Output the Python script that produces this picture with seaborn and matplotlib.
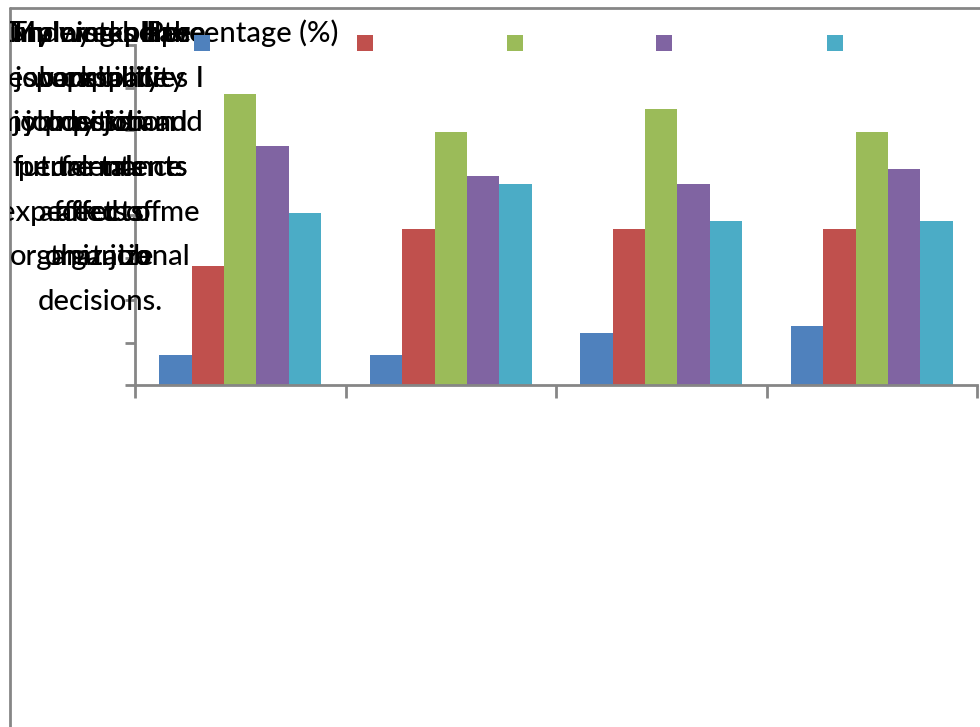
import numpy as np
import pandas as pd
import matplotlib
matplotlib.use("Agg")
import matplotlib.pyplot as plt
import seaborn as sns
from matplotlib.lines import Line2D
from matplotlib.transforms import Bbox, TransformedBbox

# ---------------- data ----------------
# statements (category labels), stored line by line as they are wrapped
stmt1_lines = ["I understand the", "responsibilities I", "my position and", "performance", "expected of me"]
stmt2_lines = ["My workplace", "workspace", "job desks and", "future talents", "affects of", "organizational", "decisions."]
stmt3_lines = ["Training helps", "job capability", "job position", "future talents", "affects", "that job"]
stmt4_lines = ["Employees have", "capability", "my job", "talents", "affects", "organize"]
statement_lines = [stmt1_lines, stmt2_lines, stmt3_lines, stmt4_lines]
categories = [" ".join(s) for s in statement_lines]

responses = ["Strongly disagree", "Disagree", "Neutral", "Agree", "Strongly agree"]
strongly_disagree = [3.5, 3.5, 6.1, 7.0]
disagree = [14.0, 18.4, 18.4, 18.4]
neutral = [34.2, 29.8, 32.5, 29.8]
agree = [28.1, 24.6, 23.7, 25.4]
strongly_agree = [20.2, 23.7, 19.3, 19.3]
series_values = [strongly_disagree, disagree, neutral, agree, strongly_agree]

axis_title = "Percentage (%)"
y_ticks = [0, 5, 10, 15, 20, 25, 30, 35, 40]

colors = ["#4F81BD", "#C0504D", "#9BBB59", "#8064A2", "#4BACC6"]

df = pd.DataFrame({
    "Statement": [c for _ in responses for c in categories],
    "Response": [r for r in responses for _ in categories],
    "Percentage": [v for vals in series_values for v in vals],
})

# ---------------- figure ----------------
sns.set_style("white")
plt.rcParams["font.family"] = ["Lato", "DejaVu Sans"]
W, H = 980, 727
fig = plt.figure(figsize=(W / 100, H / 100), dpi=100)
fig.patch.set_facecolor("white")

ax_left, ax_right, ax_bottom, ax_top = 135, 977, 385, 45
ax = fig.add_axes([ax_left / W, 1 - ax_bottom / H, (ax_right - ax_left) / W, (ax_bottom - ax_top) / H])

sns.barplot(data=df, x="Statement", y="Percentage", hue="Response",
            order=categories, hue_order=responses, palette=colors,
            width=0.77, saturation=1, edgecolor="none", linewidth=0,
            errorbar=None, ax=ax)

leg = ax.get_legend()
handles = list(leg.legend_handles)
leg.remove()

gray = "#868686"
ax.set_xlim(-0.5, len(categories) - 0.5)
ax.set_xticks(np.arange(-0.5, len(categories), 1.0))
ax.set_xticklabels([])
ax.set_ylim(y_ticks[0], y_ticks[-1])
ax.set_yticks(y_ticks)
ax.set_yticklabels([])
ax.set_xlabel("")
ax.set_ylabel("")
ax.set_facecolor("none")
for s in ["top", "right"]:
    ax.spines[s].set_visible(False)
for s in ["left", "bottom"]:
    ax.spines[s].set_color(gray)
    ax.spines[s].set_linewidth(2)
ax.tick_params(axis="x", direction="out", length=9, width=2, color=gray, bottom=True)
ax.tick_params(axis="y", direction="out", length=7, width=2, color=gray, left=True)

# ---------------- chart frame ----------------
fx0 = 10 / W
fy0 = 1 - 8 / H
fig.add_artist(Line2D([fx0, fx0], [-0.01, fy0], transform=fig.transFigure, color=gray, lw=2))
fig.add_artist(Line2D([fx0, 1.01], [fy0, fy0], transform=fig.transFigure, color=gray, lw=2))
clip = TransformedBbox(Bbox([[fx0, 0], [1, fy0]]), fig.transFigure)

# ---------------- overlapping labels at top left ----------------
base0, step = 42, 44.7
for lines in statement_lines:
    for i, line in enumerate(lines):
        t = fig.text(100 / W, 1 - (base0 + i * step) / H, line, ha="center", va="baseline",
                     fontsize=21, fontweight=500, color="black")
        t.set_clip_box(clip)
        t.set_clip_on(True)
t = fig.text(338 / W, 1 - base0 / H, axis_title, ha="right", va="baseline",
             fontsize=21, fontweight=500, color="black")
t.set_clip_box(clip)
t.set_clip_on(True)

# ---------------- legend markers (labels not shown) ----------------
marker_cx = [202, 365, 515, 664, 835]
for h, cx in zip(handles, marker_cx):
    fig.legend(handles=[h], labels=[""], loc="center", bbox_to_anchor=(cx / W, 1 - 43 / H),
               frameon=False, fontsize=10, handlelength=1.15, handleheight=1.5,
               handletextpad=0, borderpad=0, borderaxespad=0)

fig.savefig("out.png", dpi=100, facecolor="white")
